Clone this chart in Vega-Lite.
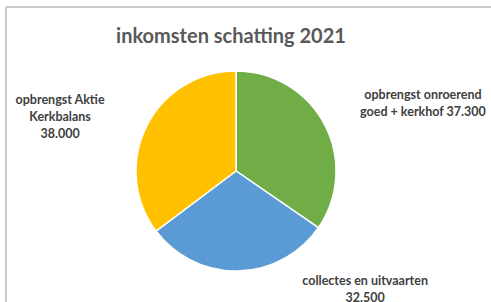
{
  "$schema": "https://vega.github.io/schema/vega-lite/v6.json",
  "autosize": "none",
  "width": 460,
  "height": 328,
  "padding": {"left": 6, "top": 7, "right": 25, "bottom": 0},
  "background": "white",
  "config": {"view": {"stroke": null}},
  "title": {
    "text": "inkomsten schatting 2021",
    "font": "Lato",
    "fontSize": 20,
    "fontWeight": "bold",
    "color": "#595959",
    "anchor": "middle",
    "frame": "group",
    "baseline": "alphabetic",
    "offset": -57,
    "dx": -5
  },
  "data": {
    "values": [
      {"idx": 1, "cat": "opbrengst onroerend goed + kerkhof", "value": 37300, "label": "opbrengst onroerend\ngoed + kerkhof 37.300"},
      {"idx": 2, "cat": "collectes en uitvaarten", "value": 32500, "label": "collectes en uitvaarten\n32.500"},
      {"idx": 3, "cat": "opbrengst Aktie Kerkbalans", "value": 38000, "label": "opbrengst Aktie\nKerkbalans\n38.000"}
    ]
  },
  "encoding": {
    "theta": {"field": "value", "type": "quantitative", "stack": true},
    "order": {"field": "idx", "type": "quantitative"}
  },
  "layer": [
    {
      "mark": {"type": "rule", "stroke": "#c8c8c8", "strokeWidth": 1.5},
      "encoding": {"x": {"value": 0}, "y": {"value": 0}, "y2": {"value": 400}, "theta": null, "order": null}
    },
    {
      "mark": {"type": "rule", "stroke": "#c8c8c8", "strokeWidth": 1.5},
      "encoding": {"y": {"value": 0}, "x": {"value": 0}, "x2": {"value": 600}, "theta": null, "order": null}
    },
    {
      "mark": {"type": "arc", "outerRadius": 100, "stroke": "white", "strokeWidth": 1.5},
      "encoding": {
        "color": {
          "field": "cat",
          "type": "nominal",
          "scale": {
            "domain": ["opbrengst onroerend goed + kerkhof", "collectes en uitvaarten", "opbrengst Aktie Kerkbalans"],
            "range": ["#70AD47", "#5B9BD5", "#FFC000"]
          },
          "legend": null
        }
      }
    },
    {
      "mark": {"type": "text", "font": "Lato", "fontSize": 12.5, "fontWeight": "bold", "color": "#404040", "lineBreak": "\n", "lineHeight": 17, "align": "center", "baseline": "middle", "dx": 94, "dy": -27},
      "encoding": {
        "radius": {"value": 105},
        "text": {"condition": {"test": "datum.idx == 1", "field": "label"}, "value": ""}
      }
    },
    {
      "mark": {"type": "text", "font": "Lato", "fontSize": 12.5, "fontWeight": "bold", "color": "#404040", "lineBreak": "\n", "lineHeight": 17, "align": "center", "baseline": "middle", "dx": 127, "dy": 5},
      "encoding": {
        "radius": {"value": 105},
        "text": {"condition": {"test": "datum.idx == 2", "field": "label"}, "value": ""}
      }
    },
    {
      "mark": {"type": "text", "font": "Lato", "fontSize": 12.5, "fontWeight": "bold", "color": "#404040", "lineBreak": "\n", "lineHeight": 17, "align": "center", "baseline": "middle", "dx": -82, "dy": -24},
      "encoding": {
        "radius": {"value": 105},
        "text": {"condition": {"test": "datum.idx == 3", "field": "label"}, "value": ""}
      }
    }
  ]
}
